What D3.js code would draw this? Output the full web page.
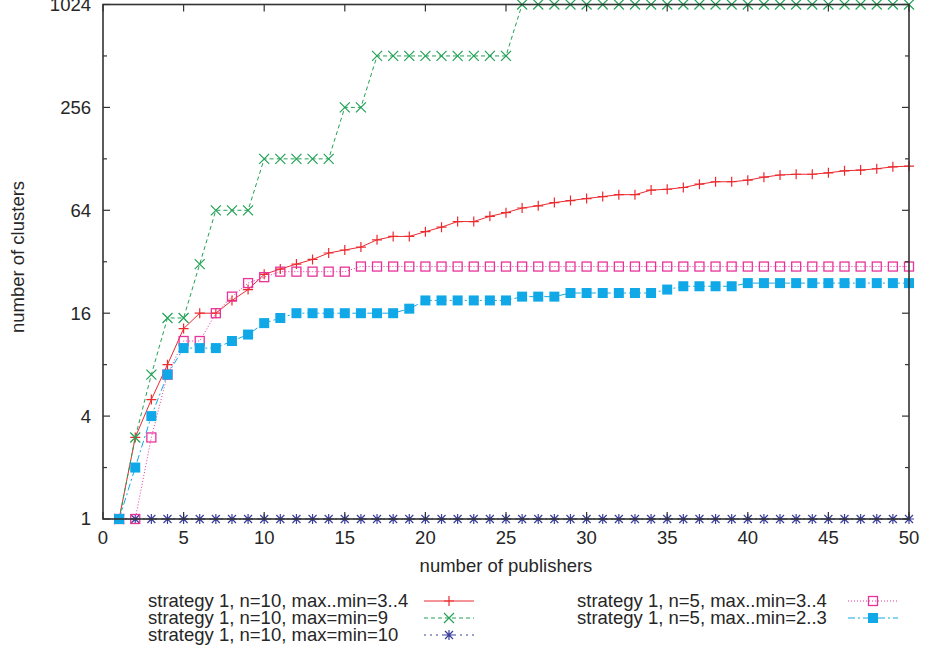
<!DOCTYPE html>
<html>
<head>
<meta charset="utf-8">
<script src="https://cdnjs.cloudflare.com/ajax/libs/d3/7.8.5/d3.min.js"></script>
<style>
  body { margin: 0; background: #fff; }
  text { font-family: "Liberation Sans", Arial, sans-serif; fill: #262626; }
</style>
</head>
<body>
<div id="chart"></div>
<script>
// number of publishers on the x axis
var publishers = d3.range(1, 51);

// cluster counts, one array per series
var s1_n10_34 = [1, 3, 5, 8, 13, 16, 16, 19, 22, 27,
                 29, 31, 33, 36, 37.5, 39, 43, 45, 45, 48,
                 51, 55, 55, 59, 62, 66, 68, 71, 73, 75,
                 77, 79, 79, 84, 85, 87, 91, 94, 94, 96,
                 100, 103, 104, 104, 106, 109, 110, 112, 115, 116];
var s1_n10_9 = [1, 3, 7, 15, 15, 31, 64, 64, 64, 128,
                128, 128, 128, 128, 256, 256, 512, 512, 512, 512,
                512, 512, 512, 512, 512, 1024, 1024, 1024, 1024, 1024,
                1024, 1024, 1024, 1024, 1024, 1024, 1024, 1024, 1024, 1024,
                1024, 1024, 1024, 1024, 1024, 1024, 1024, 1024, 1024, 1024];
var s1_n10_10 = publishers.map(function () { return 1; });
var s1_n5_34 = [1, 1, 3, 7, 11, 11, 16, 20, 24, 26,
                28, 28, 28, 28, 28, 30, 30, 30, 30, 30,
                30, 30, 30, 30, 30, 30, 30, 30, 30, 30,
                30, 30, 30, 30, 30, 30, 30, 30, 30, 30,
                30, 30, 30, 30, 30, 30, 30, 30, 30, 30];
var s1_n5_23 = [1, 2, 4, 7, 10, 10, 10, 11, 12, 14,
                15, 16, 16, 16, 16, 16, 16, 16, 17, 19,
                19, 19, 19, 19, 19, 20, 20, 20, 21, 21,
                21, 21, 21, 21, 22, 23, 23, 23, 23, 24,
                24, 24, 24, 24, 24, 24, 24, 24, 24, 24];

var xTicks = d3.range(0, 51, 5);
var yMajor = [1, 4, 16, 64, 256, 1024];
var yMinor = [2, 8, 32, 128, 512];

var seriesNames = ["strategy 1, n=10, max..min=3..4",
                   "strategy 1, n=10, max=min=9",
                   "strategy 1, n=10, max=min=10",
                   "strategy 1, n=5, max..min=3..4",
                   "strategy 1, n=5, max..min=2..3"];
var seriesValues = [s1_n10_34, s1_n10_9, s1_n10_10, s1_n5_34, s1_n5_23];

// line look per series (gnuplot-ish)
var styles = [
  {color: "#ec2a2e", dash: null,      marker: "plus"},
  {color: "#22a255", dash: "4,3",     marker: "cross"},
  {color: "#3a3f9c", dash: "2,4",     marker: "star"},
  {color: "#e8339a", dash: "1,2",     marker: "box"},
  {color: "#10a8e6", dash: "7,3,2,3", marker: "fbox"}
];

var width = 925, height = 654;
var plot = {left: 103, right: 909, top: 4.5, bottom: 519};
var fontSize = "18.5px";

var svg = d3.select("#chart").append("svg")
    .attr("width", width)
    .attr("height", height);

var x = d3.scaleLinear().domain([0, 50]).range([plot.left, plot.right]);
var y = d3.scaleLog().base(2).domain([1, 1024]).range([plot.bottom, plot.top]);

// markers
function drawMarker(g, type, cx, cy, color) {
  var r = 5;
  if (type === "plus") {
    g.append("path")
      .attr("d", "M" + (cx - r) + "," + cy + "H" + (cx + r) + "M" + cx + "," + (cy - r) + "V" + (cy + r))
      .attr("stroke", color).attr("stroke-width", 1.2).attr("fill", "none");
  } else if (type === "cross") {
    g.append("path")
      .attr("d", "M" + (cx - r) + "," + (cy - r) + "L" + (cx + r) + "," + (cy + r) +
                 "M" + (cx - r) + "," + (cy + r) + "L" + (cx + r) + "," + (cy - r))
      .attr("stroke", color).attr("stroke-width", 1.2).attr("fill", "none");
  } else if (type === "star") {
    g.append("path")
      .attr("d", "M" + (cx - r) + "," + cy + "H" + (cx + r) + "M" + cx + "," + (cy - r) + "V" + (cy + r) +
                 "M" + (cx - r + 1) + "," + (cy - r + 1) + "L" + (cx + r - 1) + "," + (cy + r - 1) +
                 "M" + (cx - r + 1) + "," + (cy + r - 1) + "L" + (cx + r - 1) + "," + (cy - r + 1))
      .attr("stroke", color).attr("stroke-width", 1.2).attr("fill", "none");
  } else if (type === "box") {
    g.append("rect")
      .attr("x", cx - 4.5).attr("y", cy - 4.5).attr("width", 9).attr("height", 9)
      .attr("stroke", color).attr("stroke-width", 1.3).attr("fill", "none");
  } else if (type === "fbox") {
    g.append("rect")
      .attr("x", cx - 5).attr("y", cy - 5).attr("width", 10).attr("height", 10)
      .attr("fill", color);
  }
}

var line = d3.line()
    .x(function (d, i) { return x(publishers[i]); })
    .y(function (d) { return y(d); });

// series
seriesValues.forEach(function (vals, k) {
  var st = styles[k];
  var g = svg.append("g").attr("class", "series");
  g.append("path")
    .datum(vals)
    .attr("d", line)
    .attr("fill", "none")
    .attr("stroke", st.color)
    .attr("stroke-width", 1)
    .attr("stroke-dasharray", st.dash);
  vals.forEach(function (v, i) {
    drawMarker(g, st.marker, x(publishers[i]), y(v), st.color);
  });
});

// border and ticks
var axisColor = "#333";
svg.append("rect")
  .attr("x", plot.left).attr("y", plot.top)
  .attr("width", plot.right - plot.left).attr("height", plot.bottom - plot.top)
  .attr("fill", "none").attr("stroke", axisColor).attr("stroke-width", 1.6);

xTicks.forEach(function (t) {
  svg.append("line").attr("x1", x(t)).attr("x2", x(t))
    .attr("y1", plot.bottom).attr("y2", plot.bottom - 7)
    .attr("stroke", axisColor).attr("stroke-width", 1.2);
  svg.append("line").attr("x1", x(t)).attr("x2", x(t))
    .attr("y1", plot.top).attr("y2", plot.top + 7)
    .attr("stroke", axisColor).attr("stroke-width", 1.2);
  svg.append("text")
    .attr("x", x(t)).attr("y", plot.bottom + 25)
    .attr("text-anchor", "middle")
    .style("font-size", fontSize)
    .text(t);
});

yMajor.forEach(function (t) {
  svg.append("line").attr("x1", plot.left).attr("x2", plot.left + 7)
    .attr("y1", y(t)).attr("y2", y(t))
    .attr("stroke", axisColor).attr("stroke-width", 1.2);
  svg.append("line").attr("x1", plot.right).attr("x2", plot.right - 7)
    .attr("y1", y(t)).attr("y2", y(t))
    .attr("stroke", axisColor).attr("stroke-width", 1.2);
  svg.append("text")
    .attr("x", plot.left - 12).attr("y", y(t))
    .attr("dy", ".35em")
    .attr("text-anchor", "end")
    .style("font-size", fontSize)
    .text(t);
});

yMinor.forEach(function (t) {
  svg.append("line").attr("x1", plot.left).attr("x2", plot.left + 4)
    .attr("y1", y(t)).attr("y2", y(t))
    .attr("stroke", axisColor).attr("stroke-width", 1.2);
  svg.append("line").attr("x1", plot.right).attr("x2", plot.right - 4)
    .attr("y1", y(t)).attr("y2", y(t))
    .attr("stroke", axisColor).attr("stroke-width", 1.2);
});

// axis titles
svg.append("text")
  .attr("x", (plot.left + plot.right) / 2).attr("y", 572)
  .attr("text-anchor", "middle")
  .style("font-size", fontSize)
  .text("number of publishers");

svg.append("text")
  .attr("transform", "translate(24,257) rotate(-90)")
  .attr("text-anchor", "middle")
  .style("font-size", fontSize)
  .text("number of clusters");

// legend
var legendPos = [
  {tx: 148, sx: 424, y: 601},
  {tx: 148, sx: 424, y: 618},
  {tx: 148, sx: 424, y: 635},
  {tx: 577, sx: 848, y: 601},
  {tx: 577, sx: 848, y: 618}
];
seriesNames.forEach(function (name, k) {
  var p = legendPos[k], st = styles[k];
  var g = svg.append("g").attr("class", "legend");
  g.append("text")
    .attr("x", p.tx).attr("y", p.y)
    .attr("dy", ".35em")
    .style("font-size", fontSize)
    .text(name);
  g.append("line")
    .attr("x1", p.sx).attr("x2", p.sx + 50)
    .attr("y1", p.y).attr("y2", p.y)
    .attr("stroke", st.color).attr("stroke-width", 1)
    .attr("stroke-dasharray", st.dash);
  drawMarker(g, st.marker, p.sx + 25, p.y, st.color);
});
</script>
</body>
</html>
